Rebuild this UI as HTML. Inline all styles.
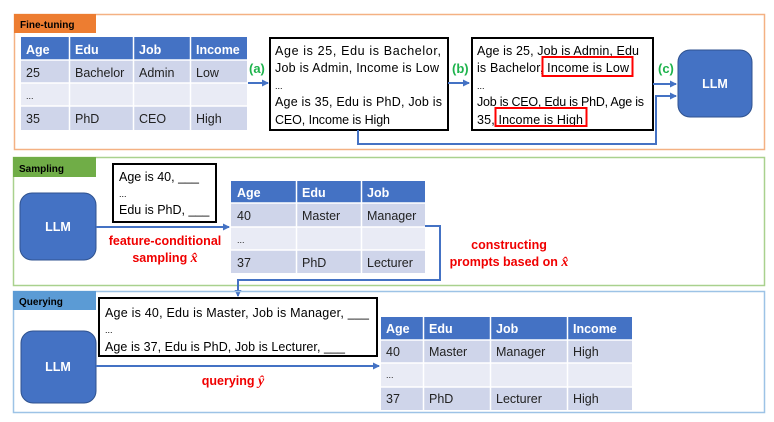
<!DOCTYPE html>
<html><head><meta charset="utf-8"><style>
html,body{margin:0;padding:0;background:#fff;}
svg{display:block;font-family:"Liberation Sans",sans-serif;}
.t{font-size:12.5px;fill:#000;}
.h{font-size:12.5px;fill:#fff;font-weight:bold;}
.c{font-size:12.5px;fill:#222;}
.lab{font-size:10px;font-weight:bold;fill:#000;}
.g{font-size:13px;font-weight:bold;fill:#1DB34C;}
.r{font-size:12.5px;font-weight:bold;fill:#F00000;}
.m{font-family:"Liberation Serif",serif;font-style:italic;font-weight:bold;font-size:14px;}
</style></head><body>
<svg width="774" height="422" viewBox="0 0 774 422" xmlns="http://www.w3.org/2000/svg">
<defs><marker id="ar" markerWidth="8" markerHeight="8" refX="6" refY="4" orient="auto" markerUnits="userSpaceOnUse"><path d="M0,0.5 L7,4 L0,7.5z" fill="#4472C4"/></marker></defs>

<rect x="14.5" y="14.5" width="750" height="135" fill="none" stroke="#F4B183" stroke-width="1.5"/>
<rect x="14" y="14" width="82" height="19" fill="#ED7D31"/>
<text x="20" y="28" class="lab">Fine-tuning</text>

<g>
<rect x="21" y="37" width="226" height="23" fill="#4472C4"/>
<rect x="21" y="60" width="226" height="23" fill="#CFD5EA"/>
<rect x="21" y="83" width="226" height="23" fill="#E9EBF5"/>
<rect x="21" y="106" width="226" height="24" fill="#CFD5EA"/>
<g stroke="#fff" stroke-width="1.5"><line x1="69.5" y1="37" x2="69.5" y2="130"/><line x1="133.5" y1="37" x2="133.5" y2="130"/><line x1="190.5" y1="37" x2="190.5" y2="130"/><line x1="21" y1="60" x2="247" y2="60"/><line x1="21" y1="83" x2="247" y2="83"/><line x1="21" y1="106" x2="247" y2="106"/></g>
<text x="26" y="54" class="h">Age</text><text x="75" y="54" class="h">Edu</text><text x="139" y="54" class="h">Job</text><text x="196" y="54" class="h">Income</text>
<text x="26" y="77" class="c">25</text><text x="75" y="77" class="c">Bachelor</text><text x="139" y="77" class="c">Admin</text><text x="196" y="77" class="c">Low</text>
<text x="26" y="99" class="c" style="font-size:9px">...</text>
<text x="26" y="123" class="c">35</text><text x="75" y="123" class="c">PhD</text><text x="139" y="123" class="c">CEO</text><text x="196" y="123" class="c">High</text>
</g>

<text x="249" y="73" class="g">(a)</text>
<line x1="248" y1="83" x2="268" y2="83" stroke="#4472C4" stroke-width="2" marker-end="url(#ar)"/>

<rect x="270" y="38" width="178" height="92" fill="#fff" stroke="#000" stroke-width="2"/>
<text class="t" x="275" y="55" textLength="166">Age is 25, Edu is Bachelor,</text>
<text class="t" x="275" y="72" textLength="164">Job is Admin, Income is Low</text>
<text class="t" x="275" y="89" style="font-size:9px">...</text>
<text class="t" x="275" y="106" textLength="167">Age is 35, Edu is PhD, Job is</text>
<text class="t" x="275" y="124" textLength="115">CEO, Income is High</text>

<text x="452" y="73" class="g">(b)</text>
<line x1="448" y1="83" x2="469" y2="83" stroke="#4472C4" stroke-width="2" marker-end="url(#ar)"/>

<rect x="472" y="38" width="181" height="92" fill="#fff" stroke="#000" stroke-width="2"/>
<text class="t" x="477" y="55" textLength="162">Age is 25, Job is Admin, Edu</text>
<text class="t" x="477" y="72" textLength="152">is Bachelor, Income is Low</text>
<text class="t" x="477" y="89" style="font-size:9px">...</text>
<text class="t" x="477" y="106" textLength="167">Job is CEO, Edu is PhD, Age is</text>
<text class="t" x="477" y="124" textLength="106">35, Income is High</text>
<rect x="542.5" y="57" width="90" height="19" fill="none" stroke="#F00" stroke-width="2"/>
<rect x="495.5" y="108" width="91" height="18" fill="none" stroke="#F00" stroke-width="2"/>

<text x="658" y="73" class="g">(c)</text>
<line x1="653" y1="84" x2="676" y2="84" stroke="#4472C4" stroke-width="2" marker-end="url(#ar)"/>
<polyline points="358,130 358,144 656,144 656,96 676,96" fill="none" stroke="#4472C4" stroke-width="2" marker-end="url(#ar)"/>

<rect x="678" y="50" width="74" height="67" rx="12" fill="#4472C4" stroke="#2F528F" stroke-width="1"/>
<text x="715" y="88" text-anchor="middle" class="h" font-size="11">LLM</text>

<rect x="13.5" y="157.5" width="751" height="128" fill="none" stroke="#A9D18E" stroke-width="1.5"/>
<rect x="13" y="157" width="83" height="20" fill="#70AD47"/>
<text x="19" y="172" class="lab">Sampling</text>

<rect x="20" y="193" width="76" height="67" rx="12" fill="#4472C4" stroke="#2F528F"/>
<text x="58" y="231" text-anchor="middle" class="h" font-size="11">LLM</text>

<rect x="113" y="164" width="103" height="58" fill="#fff" stroke="#000" stroke-width="2"/>
<text class="t" x="119" y="181">Age is 40, ___</text>
<text class="t" x="119" y="197" style="font-size:9px">...</text>
<text class="t" x="119" y="214">Edu is PhD, ___</text>

<line x1="96" y1="227" x2="229" y2="227" stroke="#4472C4" stroke-width="2" marker-end="url(#ar)"/>
<text x="165" y="245" text-anchor="middle" class="r">feature-conditional</text>
<text x="165" y="262" text-anchor="middle" class="r">sampling <tspan class="m">x̂</tspan></text>

<g>
<rect x="231" y="181" width="194" height="22" fill="#4472C4"/>
<rect x="231" y="203" width="194" height="24" fill="#CFD5EA"/>
<rect x="231" y="227" width="194" height="23" fill="#E9EBF5"/>
<rect x="231" y="250" width="194" height="23" fill="#CFD5EA"/>
<g stroke="#fff" stroke-width="1.5"><line x1="296.5" y1="181" x2="296.5" y2="273"/><line x1="361.5" y1="181" x2="361.5" y2="273"/><line x1="231" y1="203" x2="425" y2="203"/><line x1="231" y1="227" x2="425" y2="227"/><line x1="231" y1="250" x2="425" y2="250"/></g>
<text x="237" y="197" class="h">Age</text><text x="302" y="197" class="h">Edu</text><text x="367" y="197" class="h">Job</text>
<text x="237" y="220" class="c">40</text><text x="302" y="220" class="c">Master</text><text x="367" y="220" class="c">Manager</text>
<text x="237" y="243" class="c" style="font-size:9px">...</text>
<text x="237" y="267" class="c">37</text><text x="302" y="267" class="c">PhD</text><text x="367" y="267" class="c">Lecturer</text>
</g>

<polyline points="425,226 440,226 440,280 238,280 238,296" fill="none" stroke="#4472C4" stroke-width="2" marker-end="url(#ar)"/>
<text x="509" y="249" text-anchor="middle" class="r">constructing</text>
<text x="509" y="266" text-anchor="middle" class="r">prompts based on <tspan class="m">x̂</tspan></text>

<rect x="13.5" y="291.5" width="751" height="121" fill="none" stroke="#9DC3E6" stroke-width="1.5"/>
<rect x="13" y="291" width="83" height="19" fill="#5B9BD5"/>
<text x="19" y="305" class="lab">Querying</text>

<rect x="21" y="331" width="75" height="72" rx="12" fill="#4472C4" stroke="#2F528F"/>
<text x="58" y="371" text-anchor="middle" class="h" font-size="11">LLM</text>

<rect x="99" y="298" width="278" height="58" fill="#fff" stroke="#000" stroke-width="2"/>
<text class="t" x="105" y="317" textLength="264">Age is 40, Edu is Master, Job is Manager, ___</text>
<text class="t" x="105" y="333" style="font-size:9px">...</text>
<text class="t" x="105" y="351" textLength="240">Age is 37, Edu is PhD, Job is Lecturer, ___</text>

<line x1="96" y1="366" x2="379" y2="366" stroke="#4472C4" stroke-width="2" marker-end="url(#ar)"/>
<text x="233" y="385" text-anchor="middle" class="r">querying <tspan class="m">ŷ</tspan></text>

<g>
<rect x="381" y="317" width="251" height="23" fill="#4472C4"/>
<rect x="381" y="340" width="251" height="23" fill="#CFD5EA"/>
<rect x="381" y="363" width="251" height="24" fill="#E9EBF5"/>
<rect x="381" y="387" width="251" height="23" fill="#CFD5EA"/>
<g stroke="#fff" stroke-width="1.5"><line x1="423.5" y1="317" x2="423.5" y2="410"/><line x1="490.5" y1="317" x2="490.5" y2="410"/><line x1="567.5" y1="317" x2="567.5" y2="410"/><line x1="381" y1="340" x2="632" y2="340"/><line x1="381" y1="363" x2="632" y2="363"/><line x1="381" y1="387" x2="632" y2="387"/></g>
<text x="386" y="333" class="h">Age</text><text x="429" y="333" class="h">Edu</text><text x="496" y="333" class="h">Job</text><text x="573" y="333" class="h">Income</text>
<text x="386" y="356" class="c">40</text><text x="429" y="356" class="c">Master</text><text x="496" y="356" class="c">Manager</text><text x="573" y="356" class="c">High</text>
<text x="386" y="378" class="c" style="font-size:9px">...</text>
<text x="386" y="403" class="c">37</text><text x="429" y="403" class="c">PhD</text><text x="496" y="403" class="c">Lecturer</text><text x="573" y="403" class="c">High</text>
</g>
</svg>
</body></html>
